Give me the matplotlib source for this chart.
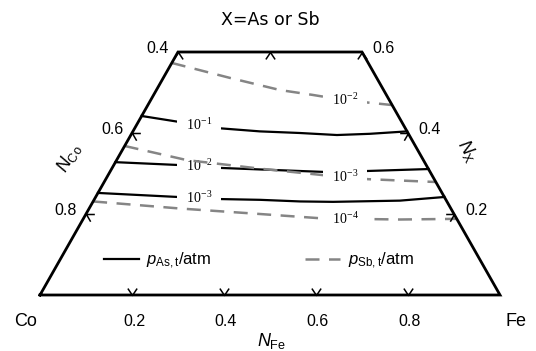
import numpy as np
import matplotlib
matplotlib.use("Agg")
import matplotlib.pyplot as plt
from matplotlib.path import Path

plt.rcParams['font.family'] = ['Liberation Sans', 'DejaVu Sans']
plt.rcParams['mathtext.fontset'] = 'custom'
plt.rcParams['mathtext.rm'] = 'Liberation Sans'
plt.rcParams['mathtext.it'] = 'Liberation Sans:italic'
plt.rcParams['mathtext.bf'] = 'Liberation Sans:bold'

# ---------------- data (compositions) ----------------
title = "X=As or Sb"
bottom_ticks = [0.2, 0.4, 0.6, 0.8]          # N_Fe
left_ticks = [0.4, 0.6, 0.8]                 # N_Co
right_ticks = [0.2, 0.4, 0.6]                # N_X
left_chevrons = [0.6, 0.8]                   # N_Co
right_chevrons = [0.2, 0.4]                  # N_X
top_chevrons = [0.0, 0.2, 0.4]               # N_Fe on the N_X=0.6 edge
nx_top = 0.6

as_labels = ["10^{-1}", "10^{-2}", "10^{-3}"]
sb_labels = ["10^{-2}", "10^{-3}", "10^{-4}"]

# p_As,t iso-lines (solid)
as1_nfe = [0.0, 0.091, 0.181, 0.276, 0.365, 0.448, 0.518, 0.596]
as1_nx = [0.442, 0.427, 0.412, 0.404, 0.400, 0.395, 0.398, 0.404]
as2_nfe = [0.0, 0.140, 0.230, 0.323, 0.463, 0.553, 0.689]
as2_nx = [0.328, 0.321, 0.314, 0.310, 0.304, 0.306, 0.311]
as3_nfe = [0.0, 0.179, 0.268, 0.361, 0.450, 0.522, 0.666, 0.758]
as3_nx = [0.252, 0.242, 0.237, 0.235, 0.231, 0.230, 0.233, 0.242]

# p_Sb,t iso-lines (dashed)
sb2_nfe = [0.0, 0.145, 0.269, 0.346, 0.4225, 0.531]
sb2_nx = [0.573, 0.536, 0.506, 0.494, 0.481, 0.469]
sb3_nfe = [0.0, 0.153, 0.322, 0.467, 0.570, 0.721]
sb3_nx = [0.368, 0.333, 0.312, 0.296, 0.286, 0.279]
sb4_nfe = [0.0, 0.197, 0.378, 0.521, 0.689, 0.812]
sb4_nx = [0.231, 0.2136, 0.200, 0.189, 0.1864, 0.188]

as_curves = [(as1_nfe, as1_nx), (as2_nfe, as2_nx), (as3_nfe, as3_nx)]
sb_curves = [(sb2_nfe, sb2_nx), (sb3_nfe, sb3_nx), (sb4_nfe, sb4_nx)]


def tern(nfe, nx):
    nfe = np.asarray(nfe, float)
    nx = np.asarray(nx, float)
    return nfe + nx / 2.0, nx


fig = plt.figure(figsize=(5.36, 3.51), dpi=100)
ax = fig.add_axes([0, 0, 1, 1])
ax.set_xlim(-40 / 460, 496 / 460)
ax.set_ylim(-56 / 405, 295 / 405)
ax.axis('off')

SOLID_LW = 1.6
DASH_LW = 1.8
GRAY = '#858585'

# frame (truncated triangle)
fx, fy = tern([0, 1, 1 - nx_top, 0, 0], [0, 0, nx_top, nx_top, 0])
ax.plot(fx, fy, color='black', lw=2.0, solid_joinstyle='miter', zorder=10,
        clip_on=False)

# iso-lines
as_lines = []
for nfe, nx in as_curves:
    X, Y = tern(nfe, nx)
    ln, = ax.plot(X, Y, color='black', lw=SOLID_LW, zorder=2)
    as_lines.append(ln)
sb_lines = []
for nfe, nx in sb_curves:
    X, Y = tern(nfe, nx)
    ln, = ax.plot(X, Y, color=GRAY, lw=DASH_LW, dashes=(5.6, 3.8), zorder=4)
    sb_lines.append(ln)

# iso-line labels
def iso_label(nfe, nx, xlab, txt, z):
    X, Y = tern(nfe, nx)
    y = np.interp(xlab, X, Y)
    ax.text(xlab, y, "  $\\mathregular{%s}$  " % txt, fontsize=10,
            family='Liberation Serif', ha='center', va='center', zorder=z,
            bbox=dict(boxstyle='square,pad=0.25', fc='white', ec='none'))

for (nfe, nx), txt in zip(as_curves, as_labels):
    iso_label(nfe, nx, 0.3457, txt, 3)
for (nfe, nx), txt in zip(sb_curves, sb_labels):
    iso_label(nfe, nx, 0.663, txt, 5)

# chevron ticks
mk_bottom = Path([(-0.6, 0.9), (0, 0), (0.6, 0.9)])
mk_top = Path([(-0.6, -0.9), (0, 0), (0.6, -0.9)])
mk_left = Path([(1, 0), (0, 0), (0.5, -0.866)])
mk_right = Path([(-1, 0), (0, 0), (-0.5, -0.866)])
mkw = dict(ls='none', mfc='none', mec='black', mew=1.1, zorder=11, clip_on=False)

bx, by = tern(bottom_ticks, np.zeros(len(bottom_ticks)))
ax.plot(bx, by, marker=mk_bottom, ms=10, **mkw)
tx, ty = tern(top_chevrons, np.full(len(top_chevrons), nx_top))
ax.plot(tx, ty, marker=mk_top, ms=10, **mkw)
lx, ly = tern(np.zeros(len(left_chevrons)), 1 - np.asarray(left_chevrons))
ax.plot(lx, ly, marker=mk_left, ms=12, **mkw)
rx, ry = tern(1 - np.asarray(right_chevrons), right_chevrons)
ax.plot(rx, ry, marker=mk_right, ms=12, **mkw)

# tick labels
TICK_FS = 11.5
for t in bottom_ticks:
    X, Y = tern(t, 0)
    ax.annotate(f"{t:.1f}", (X, Y), xytext=(1.4, -19.4), textcoords='offset points',
                ha='center', va='center', fontsize=TICK_FS)
for c in left_ticks:
    X, Y = tern(0, 1 - c)
    ax.annotate(f"{c:.1f}", (X, Y), xytext=(-14.4, 2.2), textcoords='offset points',
                ha='center', va='center', fontsize=TICK_FS)
for x in right_ticks:
    X, Y = tern(1 - x, x)
    ax.annotate(f"{x:.1f}", (X, Y), xytext=(15.8, 2.2), textcoords='offset points',
                ha='center', va='center', fontsize=TICK_FS)

# corner labels
ax.annotate("Co", tern(0, 0), xytext=(-10.1, -19.4), textcoords='offset points',
            ha='center', va='center', fontsize=13)
ax.annotate("Fe", tern(1, 0), xytext=(11.5, -19.4), textcoords='offset points',
            ha='center', va='center', fontsize=13)

# axis titles
ax.annotate(r"$N_{\mathrm{Fe}}$", tern(0.5, 0), xytext=(1.4, -26.0),
            textcoords='offset points', ha='center', va='top', fontsize=13,
            annotation_clip=False)
ax.annotate(r"$N_{\mathrm{Co}}$", tern(0, 0.3), xytext=(-28.8, 11.2),
            textcoords='offset points', ha='center', va='center', fontsize=13,
            rotation=60)
ax.annotate(r"$N_{\mathrm{X}}$", tern(0.65, 0.35), xytext=(34.2, 1.6),
            textcoords='offset points', ha='center', va='center', fontsize=13,
            rotation=-60)

fig.text(270.5 / 536, 1 - 19.6 / 351, title, ha='center', va='center',
         fontsize=12.5, family='DejaVu Sans')

# legend
ax.legend([as_lines[0], sb_lines[0]],
          [r"$p_{\mathrm{As,t}}$/atm", r"$p_{\mathrm{Sb,t}}$/atm"],
          loc='center left', bbox_to_anchor=(104 / 536, 1 - 261 / 351),
          bbox_transform=fig.transFigure, frameon=False, ncol=2,
          borderpad=0, borderaxespad=0, handlelength=2.1, handletextpad=0.45,
          columnspacing=5.6, fontsize=12)

fig.savefig("out.png", dpi=100)
